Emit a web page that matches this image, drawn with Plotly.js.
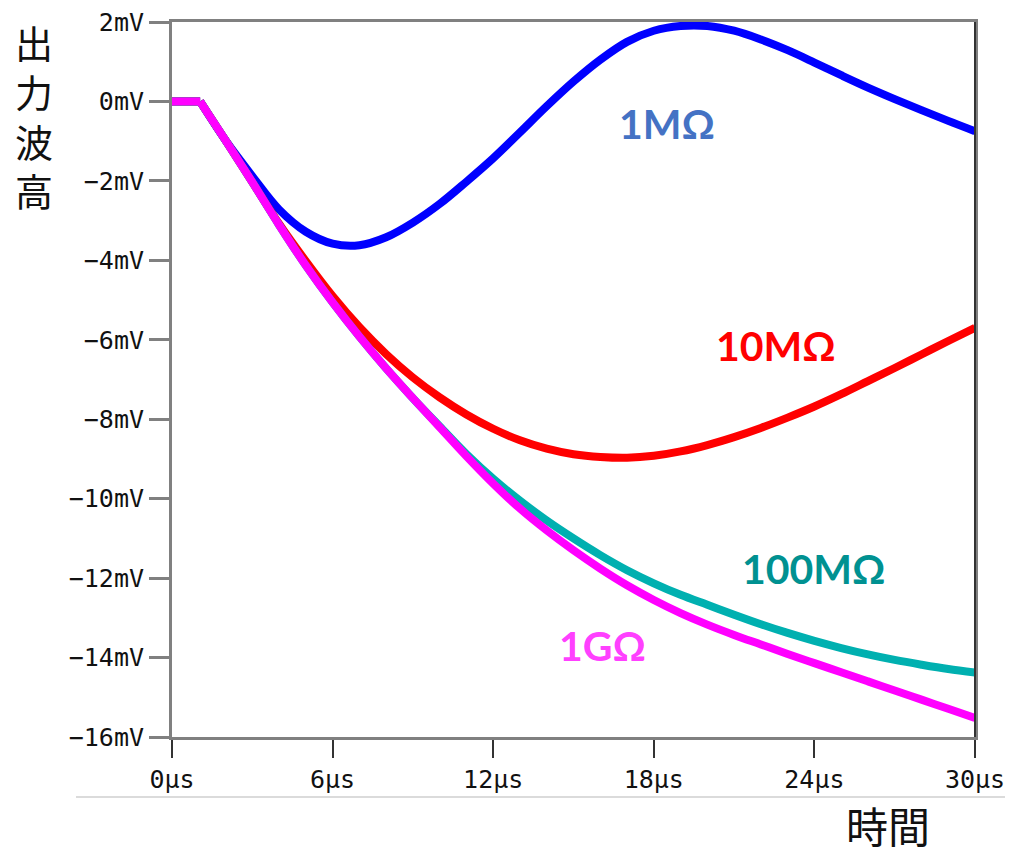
<!DOCTYPE html>
<html>
<head>
<meta charset="utf-8">
<script src="https://cdn.plot.ly/plotly-3.0.1.min.js"></script>
<style>
html,body{margin:0;padding:0;background:#fff;}
#chart{width:1013px;height:854px;}
</style>
</head>
<body>
<div id="chart"></div>
<script>
// time axis (μs)
var time_us = [0, 1.05, 2, 3, 4, 5, 6, 7, 8, 9, 10, 11, 12, 13, 14, 15, 16, 17, 18, 19, 20, 21, 22, 23, 24, 25, 26, 27, 28, 29, 30];

// output waveform (mV) for each load resistance
var v_1MOhm   = [0, 0, -0.98, -1.88, -2.72, -3.28, -3.58, -3.62, -3.42, -3.05, -2.58, -2.02, -1.43, -0.78, -0.12, 0.5, 1.05, 1.5, 1.78, 1.9, 1.9, 1.78, 1.56, 1.29, 0.98, 0.66, 0.35, 0.06, -0.22, -0.49, -0.75];
var v_10MOhm  = [0, 0, -0.98, -2.03, -3.08, -4.02, -4.9, -5.68, -6.36, -6.95, -7.45, -7.88, -8.24, -8.53, -8.74, -8.88, -8.95, -8.97, -8.92, -8.81, -8.65, -8.45, -8.22, -7.96, -7.68, -7.37, -7.04, -6.71, -6.37, -6.03, -5.7];
var v_100MOhm = [0, 0, -0.98, -2.03, -3.11, -4.13, -5.06, -5.92, -6.72, -7.47, -8.18, -8.88, -9.5, -10.05, -10.55, -11.0, -11.42, -11.8, -12.13, -12.42, -12.67, -12.92, -13.16, -13.38, -13.58, -13.76, -13.92, -14.06, -14.18, -14.29, -14.38];
var v_1GOhm   = [0, 0, -0.98, -2.03, -3.11, -4.13, -5.06, -5.92, -6.72, -7.47, -8.2, -8.93, -9.62, -10.25, -10.8, -11.3, -11.76, -12.18, -12.55, -12.88, -13.17, -13.43, -13.67, -13.91, -14.14, -14.37, -14.6, -14.83, -15.06, -15.29, -15.52];

var seriesNames = ["1MΩ", "10MΩ", "100MΩ", "1GΩ"];
var lineColors = ["#0000FF", "#FF0000", "#00B0B0", "#FF00FF"];
var labelColors = ["#4472C4", "#FF0000", "#009191", "#FF40FF"];
// label anchor positions in data units (time μs, mV)
var labelT = [18.5, 22.55, 24.0, 16.1];
var labelV = [-0.55, -6.15, -11.77, -13.7];

var xTickVals = [0, 6, 12, 18, 24, 30];
var xTickText = ["0μs", "6μs", "12μs", "18μs", "24μs", "30μs"];
var yTickVals = [2, 0, -2, -4, -6, -8, -10, -12, -14, -16];
var yTickText = ["2mV", "0mV", "−2mV", "−4mV", "−6mV", "−8mV", "−10mV", "−12mV", "−14mV", "−16mV"];

var yTitle = "出<br>力<br>波<br>高";
var xTitle = "時間";

var allV = [v_1MOhm, v_10MOhm, v_100MOhm, v_1GOhm];
var traces = [];
allV.forEach(function(v, i){
  // flat start segment (straight) and the smooth response after the knee
  traces.push({
    x: time_us.slice(0, 2), y: v.slice(0, 2), type: "scatter", mode: "lines", name: seriesNames[i],
    line: {color: lineColors[i], width: 8, shape: "linear"}, hoverinfo: "skip"
  });
  traces.push({
    x: time_us.slice(1), y: v.slice(1), type: "scatter", mode: "lines", name: seriesNames[i],
    line: {color: lineColors[i], width: 8, shape: "spline", smoothing: 1}, hoverinfo: "skip"
  });
});

var tickFont = {family: "DejaVu Sans Mono, monospace", size: 25, color: "#111"};

var annotations = [];
seriesNames.forEach(function(n, i){
  annotations.push({
    x: labelT[i], y: labelV[i], xref: "x", yref: "y", text: "<b>" + n + "</b>",
    showarrow: false, font: {family: "Lato, Open Sans, sans-serif", size: 41, color: labelColors[i]},
    xanchor: "center", yanchor: "middle"
  });
});
// plot area: left 172, top 22, right 975, bottom 737 (px)
function px2paperX(px){ return (px - 172) / 803; }
function px2paperY(py){ return (737 - py) / 715; }
annotations.push({
  x: px2paperX(34), y: px2paperY(115), xref: "paper", yref: "paper",
  text: yTitle, showarrow: false,
  font: {family: "Noto Sans CJK JP, sans-serif", size: 38, color: "#111"},
  xanchor: "center", yanchor: "middle"
});
annotations.push({
  x: px2paperX(888), y: px2paperY(824), xref: "paper", yref: "paper",
  text: xTitle, showarrow: false,
  font: {family: "Noto Sans CJK JP, sans-serif", size: 42, color: "#111"},
  xanchor: "center", yanchor: "middle"
});

var layout = {
  width: 1013, height: 854,
  margin: {l: 172, r: 38, t: 22, b: 117, pad: 0},
  paper_bgcolor: "#fff", plot_bgcolor: "#fff",
  showlegend: false,
  xaxis: {
    range: [0, 30], tickvals: xTickVals, ticktext: xTickText,
    showline: true, linecolor: "#808080", linewidth: 3, mirror: true,
    ticks: "outside", ticklen: 18, tickwidth: 2, tickcolor: "#333",
    showgrid: false, zeroline: false, tickfont: tickFont, fixedrange: true
  },
  yaxis: {
    range: [-16, 2], tickvals: yTickVals, ticktext: yTickText,
    showline: true, linecolor: "#808080", linewidth: 3, mirror: true,
    ticks: "outside", ticklen: 20, tickwidth: 3, tickcolor: "#808080",
    showgrid: false, zeroline: false, tickfont: tickFont, fixedrange: true
  },
  annotations: annotations,
  shapes: [
    {type: "line", xref: "paper", yref: "paper", x0: 1, x1: 1, y0: 0, y1: 1,
     line: {color: "#333", width: 2}, layer: "above"},
    {type: "line", xref: "paper", yref: "paper", x0: px2paperX(76), x1: px2paperX(1005),
     y0: px2paperY(797), y1: px2paperY(797), line: {color: "#cfcfcf", width: 1.5}}
  ]
};

Plotly.newPlot("chart", traces, layout, {displayModeBar: false, staticPlot: true});
</script>
</body>
</html>
